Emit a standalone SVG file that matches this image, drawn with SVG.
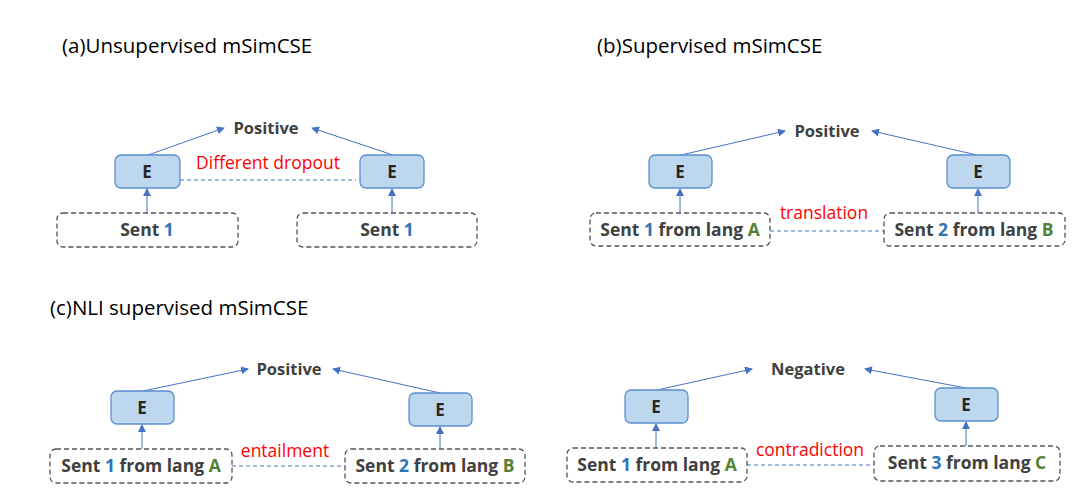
<svg xmlns="http://www.w3.org/2000/svg" width="1086" height="501" viewBox="0 0 1086 501">
<style>
text{font-family:"Open Sans","Liberation Sans",sans-serif}
.t{font-size:20.5px;fill:#000}
.p{font-size:16.5px;font-weight:bold;fill:#404040;text-anchor:middle}
.e{fill:#bdd7ee;stroke:#5b8fd0;stroke-width:1.3}
.et{font-size:17px;font-weight:bold;fill:#262626;text-anchor:middle}
.s{fill:#fff;stroke:#555;stroke-width:1.3;stroke-dasharray:5,3}
.st{font-size:17.5px;font-weight:bold;fill:#404040;text-anchor:middle}
.b{fill:#2e75b6}.g{fill:#548235}
.r{font-size:17.5px;fill:#ff0000;text-anchor:middle}
.a{stroke:#4472c4;stroke-width:1;fill:none;marker-end:url(#m)}
.d{stroke:#4472c4;stroke-width:1;stroke-dasharray:4,3;fill:none}
</style>
<defs><marker id="m" markerWidth="8" markerHeight="8" refX="7" refY="4" orient="auto" markerUnits="userSpaceOnUse"><path d="M0,0L8,4L0,8z" fill="#4472c4"/></marker></defs>
<rect width="1086" height="501" fill="#fff"/>
<text class="t" x="62" y="53">(a)Unsupervised mSimCSE</text>
<text class="t" x="597" y="53">(b)Supervised mSimCSE</text>
<text class="t" x="50" y="315">(c)NLI supervised mSimCSE</text>
<g id="connectors">
<path class="a" d="M147,213V189"/><path class="a" d="M148,155L224,128"/>
<path class="a" d="M392,213V189"/><path class="a" d="M393,155L312,128"/>
<path class="d" d="M180,180H356"/>
<path class="a" d="M680,213V189"/><path class="a" d="M681,155L785,131"/>
<path class="a" d="M978,213V189"/><path class="a" d="M977,155L872,131"/>
<path class="d" d="M770,231H884"/>
<path class="a" d="M142,449V425"/><path class="a" d="M143,391L248,369"/>
<path class="a" d="M440,449V427"/><path class="a" d="M440,393L333,369"/>
<path class="d" d="M232,466H345"/>
<path class="a" d="M656,448V424"/><path class="a" d="M657,390L752,369"/>
<path class="a" d="M966,446V422"/><path class="a" d="M966,388L865,369"/>
<path class="d" d="M747,465H874"/>
</g>
<g id="labels">
<text class="p" x="266" y="134">Positive</text>
<text class="r" x="268" y="169">Different dropout</text>
<text class="p" x="827" y="137">Positive</text>
<text class="r" x="824" y="219">translation</text>
<text class="p" x="289" y="375">Positive</text>
<text class="r" x="285" y="457">entailment</text>
<text class="p" x="808" y="375">Negative</text>
<text class="r" x="810" y="456">contradiction</text>
</g>
<g id="a-e1"><rect class="e" x="115" y="155" width="65" height="33" rx="6"/><text class="et" x="147" y="178">E</text></g>
<g id="a-e2"><rect class="e" x="360" y="155" width="64" height="33" rx="6"/><text class="et" x="392" y="178">E</text></g>
<g id="a-s1"><rect class="s" x="57" y="213" width="181" height="34" rx="6"/><text class="st" x="147" y="236">Sent <tspan class="b">1</tspan></text></g>
<g id="a-s2"><rect class="s" x="297" y="213" width="180" height="34" rx="6"/><text class="st" x="387" y="236">Sent <tspan class="b">1</tspan></text></g>
<g id="b-e1"><rect class="e" x="649" y="155" width="63" height="33" rx="6"/><text class="et" x="680" y="178">E</text></g>
<g id="b-e2"><rect class="e" x="947" y="155" width="63" height="33" rx="6"/><text class="et" x="978" y="178">E</text></g>
<g id="b-s1"><rect class="s" x="590" y="213" width="180" height="33" rx="6"/><text class="st" x="680" y="236">Sent <tspan class="b">1</tspan> from lang <tspan class="g">A</tspan></text></g>
<g id="b-s2"><rect class="s" x="884" y="213" width="181" height="33" rx="6"/><text class="st" x="974" y="236">Sent <tspan class="b">2</tspan> from lang <tspan class="g">B</tspan></text></g>
<g id="c-e1"><rect class="e" x="111" y="391" width="63" height="33" rx="6"/><text class="et" x="142" y="414">E</text></g>
<g id="c-e2"><rect class="e" x="409" y="393" width="63" height="33" rx="6"/><text class="et" x="440" y="416">E</text></g>
<g id="c-s1"><rect class="s" x="50" y="449" width="182" height="34" rx="6"/><text class="st" x="141" y="472">Sent <tspan class="b">1</tspan> from lang <tspan class="g">A</tspan></text></g>
<g id="c-s2"><rect class="s" x="345" y="449" width="180" height="34" rx="6"/><text class="st" x="435" y="472">Sent <tspan class="b">2</tspan> from lang <tspan class="g">B</tspan></text></g>
<g id="d-e1"><rect class="e" x="625" y="390" width="63" height="33" rx="6"/><text class="et" x="656" y="413">E</text></g>
<g id="d-e2"><rect class="e" x="935" y="388" width="63" height="33" rx="6"/><text class="et" x="966" y="411">E</text></g>
<g id="d-s1"><rect class="s" x="567" y="448" width="180" height="34" rx="6"/><text class="st" x="657" y="471">Sent <tspan class="b">1</tspan> from lang <tspan class="g">A</tspan></text></g>
<g id="d-s2"><rect class="s" x="874" y="446" width="186" height="35" rx="6"/><text class="st" x="967" y="469">Sent <tspan class="b">3</tspan> from lang <tspan class="g">C</tspan></text></g>
</svg>
